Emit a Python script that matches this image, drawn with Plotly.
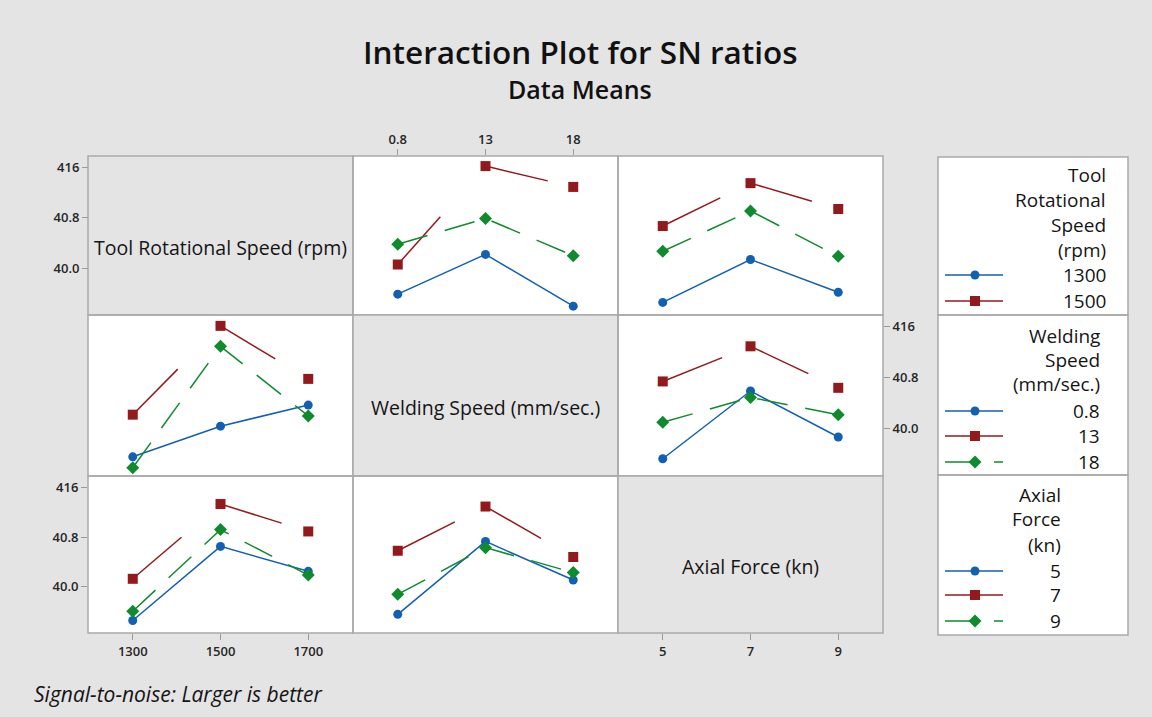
import plotly.graph_objects as go

# Factor levels (x categories)
tool_speed = ["1300", "1500", "1700"]
weld_speed = ["0.8", "13", "18"]
axial_force = ["5", "7", "9"]

# SN ratio means — Welding Speed on x, one line per Tool Rotational Speed
ws_by_tool_1300 = [39.59, 40.22, 39.40]
ws_by_tool_1500 = [40.06, 41.62, 41.29]
ws_by_tool_1700 = [40.38, 40.79, 40.20]

# Axial Force on x, one line per Tool Rotational Speed
af_by_tool_1300 = [39.46, 40.14, 39.62]
af_by_tool_1500 = [40.67, 41.35, 40.94]
af_by_tool_1700 = [40.27, 40.91, 40.19]

# Tool Rotational Speed on x, one line per Welding Speed
tool_by_ws_08 = [39.56, 40.04, 40.37]
tool_by_ws_13 = [40.22, 41.61, 40.78]
tool_by_ws_18 = [39.39, 41.29, 40.20]

# Axial Force on x, one line per Welding Speed
af_by_ws_08 = [39.53, 40.59, 39.87]
af_by_ws_13 = [40.74, 41.29, 40.64]
af_by_ws_18 = [40.10, 40.49, 40.22]

# Tool Rotational Speed on x, one line per Axial Force
tool_by_af_5 = [39.46, 40.65, 40.25]
tool_by_af_7 = [40.13, 41.33, 40.89]
tool_by_af_9 = [39.61, 40.92, 40.19]

# Welding Speed on x, one line per Axial Force
ws_by_af_5 = [39.56, 40.73, 40.11]
ws_by_af_7 = [40.58, 41.29, 40.48]
ws_by_af_9 = [39.88, 40.63, 40.23]

y_ticks = [40.0, 40.8, 41.6]
y_tick_text = ["40.0", "40.8", "416"]

factor_names = ["Tool Rotational Speed (rpm)", "Welding Speed (mm/sec.)", "Axial Force (kn)"]

# ---------------------------------------------------------------- layout helpers
W, H = 1152, 717
FONT = "Open Sans"
BG = "#e4e4e4"
BORDER = "#a9a9a9"
TEXT = "#151515"
TICK_FONT = dict(family=FONT, size=13, color="#262626", weight=600)


def px(x):
    return x / W


def py(y):
    return 1 - y / H


col_edges = [88, 353, 618, 883]
row_edges = [156, 315, 476, 633]
Y_RANGE = [39.26, 41.78]
X_RANGE = [-0.51, 2.51]

styles = [
    dict(color="#1260b2", symbol="circle", size=9, dash="solid", per_segment=False),
    dict(color="#931a1c", symbol="square", size=10, dash="64px,400px", per_segment=True),
    dict(color="#0f8a2c", symbol="diamond", size=10, dash="31px,18px", per_segment=False),
]

panels = [
    dict(row=0, col=1, cats=weld_speed, series=[ws_by_tool_1300, ws_by_tool_1500, ws_by_tool_1700]),
    dict(row=0, col=2, cats=axial_force, series=[af_by_tool_1300, af_by_tool_1500, af_by_tool_1700]),
    dict(row=1, col=0, cats=tool_speed, series=[tool_by_ws_08, tool_by_ws_13, tool_by_ws_18]),
    dict(row=1, col=2, cats=axial_force, series=[af_by_ws_08, af_by_ws_13, af_by_ws_18]),
    dict(row=2, col=0, cats=tool_speed, series=[tool_by_af_5, tool_by_af_7, tool_by_af_9]),
    dict(row=2, col=1, cats=weld_speed, series=[ws_by_af_5, ws_by_af_7, ws_by_af_9]),
]

fig = go.Figure()
layout_axes = {}

for k, p in enumerate(panels, start=1):
    xa, ya = f"x{k}", f"y{k}"
    c, r = p["col"], p["row"]
    xdom = [px(col_edges[c]), px(col_edges[c + 1])]
    ydom = [py(row_edges[r + 1]), py(row_edges[r])]

    xaxis = dict(domain=xdom, anchor=ya, type="category", categoryarray=p["cats"],
                 categoryorder="array", range=X_RANGE, showgrid=False, zeroline=False,
                 showline=False, showticklabels=False, ticks="", fixedrange=True)
    yaxis = dict(domain=ydom, anchor=xa, range=Y_RANGE, showgrid=False, zeroline=False,
                 showline=False, showticklabels=False, ticks="", fixedrange=True)

    tick_style = dict(showticklabels=True, ticks="outside", ticklen=6, tickwidth=1,
                      tickcolor="#9a9a9a", tickfont=TICK_FONT)

    if (r, c) == (0, 1):
        xaxis.update(tick_style, side="top")
        yaxis.update(tick_style, anchor="free", position=px(col_edges[0]), side="left",
                     tickvals=y_ticks, ticktext=y_tick_text)
    if (r, c) == (1, 2):
        xaxis.update(tick_style, anchor="free", position=py(row_edges[3]), side="bottom")
        yaxis.update(tick_style, side="right", tickvals=y_ticks, ticktext=y_tick_text)
    if (r, c) == (2, 0):
        xaxis.update(tick_style, side="bottom")
        yaxis.update(tick_style, side="left", tickvals=y_ticks, ticktext=y_tick_text)

    layout_axes[f"xaxis{k}"] = xaxis
    layout_axes[f"yaxis{k}"] = yaxis

    for vals, st in zip(p["series"], styles):
        line = dict(color=st["color"], width=1.5, dash=st["dash"])
        if st["per_segment"]:
            # dash pattern restarts at every level
            for i in range(len(vals) - 1):
                fig.add_trace(go.Scatter(x=p["cats"][i:i + 2], y=vals[i:i + 2], mode="lines",
                                         line=line, xaxis=xa, yaxis=ya, showlegend=False,
                                         hoverinfo="skip"))
            fig.add_trace(go.Scatter(x=p["cats"], y=vals, mode="markers",
                                     marker=dict(color=st["color"], symbol=st["symbol"], size=st["size"]),
                                     xaxis=xa, yaxis=ya, showlegend=False))
        else:
            fig.add_trace(go.Scatter(x=p["cats"], y=vals, mode="lines+markers", line=line,
                                     marker=dict(color=st["color"], symbol=st["symbol"], size=st["size"]),
                                     xaxis=xa, yaxis=ya, showlegend=False))

# ---------------------------------------------------------------- legend blocks
LEG_L, LEG_R, LEG_T, LEG_B = 938, 1128, 157, 635
kl = len(panels) + 1
layout_axes[f"xaxis{kl}"] = dict(domain=[px(LEG_L), px(LEG_R)], range=[LEG_L, LEG_R], visible=False,
                                 anchor=f"y{kl}", fixedrange=True)
layout_axes[f"yaxis{kl}"] = dict(domain=[py(LEG_B), py(LEG_T)], range=[LEG_B, LEG_T], visible=False,
                                 anchor=f"x{kl}", fixedrange=True)

legend_blocks = [
    dict(title=["Tool", "Rotational", "Speed", "(rpm)"], levels=tool_speed[:2], right=1108,
         title_y=[175, 200, 225, 250], level_y=[275, 301]),
    dict(title=["Welding", "Speed", "(mm/sec.)"], levels=weld_speed, right=1102,
         title_y=[336, 360, 384], level_y=[411, 436, 462]),
    dict(title=["Axial", "Force", "(kn)"], levels=axial_force, right=1063,
         title_y=[495, 519, 545], level_y=[571, 595, 621]),
]

LEG_FONT = dict(family=FONT, size=19, color=TEXT)
annotations = []
for blk in legend_blocks:
    for txt, yy in zip(blk["title"], blk["title_y"]):
        annotations.append(dict(x=px(blk["right"]), y=py(yy), xref="paper", yref="paper",
                                text=txt, showarrow=False, xanchor="right", yanchor="middle",
                                font=LEG_FONT))
    for i, (lvl, yy) in enumerate(zip(blk["levels"], blk["level_y"])):
        st = styles[i]
        annotations.append(dict(x=px(blk["right"]), y=py(yy), xref="paper", yref="paper",
                                text=lvl, showarrow=False, xanchor="right", yanchor="middle",
                                font=LEG_FONT))
        fig.add_trace(go.Scatter(x=[945, 1003], y=[yy, yy], mode="lines",
                                 line=dict(color=st["color"], width=1.5, dash=st["dash"]),
                                 xaxis=f"x{kl}", yaxis=f"y{kl}", showlegend=False, hoverinfo="skip"))
        fig.add_trace(go.Scatter(x=[975], y=[yy], mode="markers",
                                 marker=dict(color=st["color"], symbol=st["symbol"], size=st["size"]),
                                 xaxis=f"x{kl}", yaxis=f"y{kl}", showlegend=False, hoverinfo="skip"))

# ---------------------------------------------------------------- panel frames
shapes = []
for r in range(3):
    for c in range(3):
        shapes.append(dict(type="rect", xref="paper", yref="paper",
                           x0=px(col_edges[c]), x1=px(col_edges[c + 1]),
                           y0=py(row_edges[r + 1]), y1=py(row_edges[r]),
                           line=dict(color=BORDER, width=1.5),
                           fillcolor=BG if r == c else "rgba(0,0,0,0)", layer="below"))
for y0, y1 in [(LEG_T, 315), (315, 475), (475, LEG_B)]:
    shapes.append(dict(type="rect", xref="paper", yref="paper", x0=px(LEG_L), x1=px(LEG_R),
                       y0=py(y1), y1=py(y0), line=dict(color=BORDER, width=1.5),
                       fillcolor="rgba(0,0,0,0)", layer="above"))

# factor names on the diagonal, set slightly below the cell centre
for i, name in enumerate(factor_names):
    annotations.append(dict(x=px((col_edges[i] + col_edges[i + 1]) / 2),
                            y=py((row_edges[i] + row_edges[i + 1]) / 2 + 12),
                            xref="paper", yref="paper", text=name, showarrow=False,
                            xanchor="center", yanchor="middle",
                            font=dict(family=FONT, size=19.5, color=TEXT)))

# titles and footnote
annotations += [
    dict(x=px(580), y=py(52), xref="paper", yref="paper", text="Interaction Plot for SN ratios",
         showarrow=False, xanchor="center", yanchor="middle",
         font=dict(family=FONT, size=31.5, color="#111111", weight=600)),
    dict(x=px(580), y=py(89), xref="paper", yref="paper", text="Data Means",
         showarrow=False, xanchor="center", yanchor="middle",
         font=dict(family=FONT, size=25, color="#111111", weight=600)),
    dict(x=px(32), y=py(694), xref="paper", yref="paper",
         text="<i>Signal-to-noise: Larger is better</i>", showarrow=False,
         xanchor="left", yanchor="middle", font=dict(family=FONT, size=21, color=TEXT)),
]

fig.update_layout(
    width=W, height=H, margin=dict(l=0, r=0, t=0, b=0),
    paper_bgcolor=BG, plot_bgcolor="white",
    showlegend=False, shapes=shapes, annotations=annotations,
    **layout_axes,
)

fig.write_html("out.html", config=dict(displayModeBar=False))
